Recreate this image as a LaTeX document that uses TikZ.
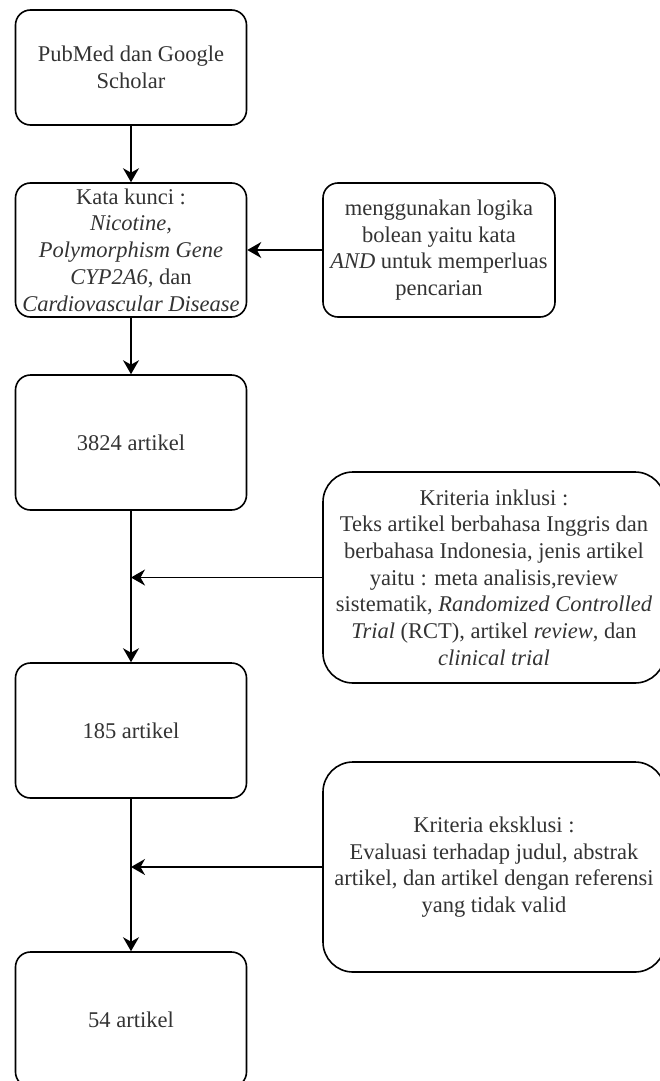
\documentclass[tikz,border=0pt]{standalone}
\usepackage{fontspec}
\setmainfont{Liberation Serif}
\usepackage{tikz}
\usetikzlibrary{positioning, arrows.meta, calc}
\definecolor{txtgray}{HTML}{333333}

\begin{document}
\begin{tikzpicture}[x=1pt, y=-1pt,
    box/.style={draw, line width=1.6pt, rounded corners=15pt, minimum width=231pt,
      align=center, text=txtgray, inner sep=0pt,
      font=\fontsize{22.5}{26.7}\selectfont},
    arr/.style={-{Stealth[length=14pt, width=16pt, inset=4.5pt]}, line width=1.6pt}]
    \useasboundingbox (0,0) rectangle (659,1081);

    % Main flow
    \node[box, minimum height=115pt] (src) at (131,67.5) {PubMed dan Google\\Scholar};
    \node[box, minimum height=134pt] (kunci) at (131,250) {Kata kunci :\\\textit{Nicotine,}\\\textit{Polymorphism Gene}\\\textit{CYP2A6}, dan\\\textit{Cardiovascular Disease}};
    \node[box, minimum height=135pt] (hasil1) at (131,442.5) {3824 artikel};
    \node[box, minimum height=135pt] (hasil2) at (131,730.5) {185 artikel};
    \node[box, minimum height=135pt] (hasil3) at (131,1019.5) {54 artikel};

    % Side notes
    \node[box, minimum width=232pt, minimum height=134pt] (logika) at (439,250) {menggunakan logika\\bolean yaitu kata\\\textit{AND} untuk memperluas\\pencarian};
    \node[box, rounded corners=30pt, minimum width=342pt, minimum height=211pt] (inklusi) at (494,577.5) {Kriteria inklusi :\\Teks artikel berbahasa Inggris dan\\berbahasa Indonesia, jenis artikel\\yaitu : meta analisis,review\\sistematik, \textit{Randomized Controlled}\\\textit{Trial} (RCT), artikel \textit{review}, dan\\\textit{clinical trial}};
    \node[box, rounded corners=30pt, minimum width=342pt, minimum height=210pt] (eksklusi) at (494,867) {Kriteria eksklusi :\\Evaluasi terhadap judul, abstrak\\artikel, dan artikel dengan referensi\\yang tidak valid};

    \coordinate (masuk1) at (hasil1.south |- inklusi.west);
    \coordinate (masuk2) at (hasil2.south |- eksklusi.west);

    % Arrows
    \draw[arr] (src) -- (kunci);
    \draw[arr] (kunci) -- (hasil1);
    \draw[arr] (hasil1) -- (hasil2);
    \draw[arr] (hasil2) -- (hasil3);
    \draw[arr] (logika) -- (kunci);
    \draw[arr] (inklusi) -- (masuk1);
    \draw[arr] (eksklusi) -- (masuk2);
\end{tikzpicture}
\end{document}
